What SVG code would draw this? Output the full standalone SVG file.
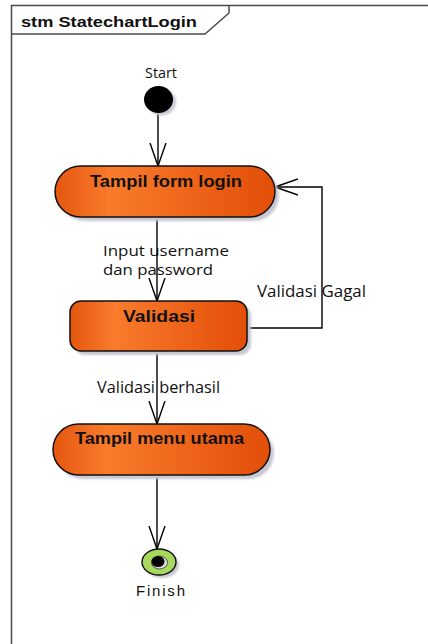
<svg xmlns="http://www.w3.org/2000/svg" width="428" height="644" viewBox="0 0 428 644">
<defs>
<linearGradient id="og" x1="0" y1="0" x2="1" y2="0">
<stop offset="0" stop-color="#E4560F"/>
<stop offset="0.25" stop-color="#F97B2C"/>
<stop offset="1" stop-color="#E24E08"/>
</linearGradient>
<filter id="blur" x="-20%" y="-20%" width="140%" height="140%"><feGaussianBlur stdDeviation="1.2"/></filter>
<marker id="arr" viewBox="0 0 24 18" refX="23" refY="9" markerWidth="24" markerHeight="18" markerUnits="userSpaceOnUse" orient="auto">
<path d="M0,1 L23,9 L0,17" fill="none" stroke="#000" stroke-width="1.4"/>
</marker>
</defs>
<style>
.frame{fill:none;stroke:#4a4a4a;stroke-width:1.5}
.node{fill:url(#og);stroke:#111;stroke-width:1.5}
.shadow{fill:#c6c8d2;filter:url(#blur)}
.ntext{font-family:"Liberation Sans",Arial,sans-serif;font-weight:bold;font-size:16px;fill:#111}
.lbl{font-family:"Open Sans","Noto Sans",sans-serif;font-size:16px;fill:#111}
.lbl2{font-family:"Open Sans","Noto Sans",sans-serif;font-size:15px;fill:#111}
.conn{fill:none;stroke:#000;stroke-width:1.4;marker-end:url(#arr)}
</style>
<rect width="428" height="644" fill="#fff"/>
<g id="frame">
<path class="frame" d="M11.5,644 L11.5,5.5 L428,5.5"/>
<path class="frame" d="M11.5,34 L205,34 L229,13 L229,5.5"/>
<text x="21" y="27" font-family="Liberation Sans,Arial,sans-serif" font-weight="bold" font-size="15" fill="#111" textLength="176" lengthAdjust="spacingAndGlyphs">stm StatechartLogin</text>
</g>
<g id="connectors">
<path class="conn" d="M158,113 L158,166"/>
<path class="conn" d="M157,217 L157,301"/>
<path class="conn" d="M247,328 L322,328 L322,187 L275,187"/>
<path class="conn" d="M157,351 L157,424"/>
<path class="conn" d="M157,475 L157,549"/>
</g>
<g id="labels">
<text class="lbl2" x="103" y="256" textLength="126" lengthAdjust="spacingAndGlyphs">Input username</text>
<text class="lbl2" x="103" y="275" textLength="110" lengthAdjust="spacingAndGlyphs">dan password</text>
<text class="lbl" x="257" y="297" textLength="109" lengthAdjust="spacingAndGlyphs">Validasi Gagal</text>
<text class="lbl" x="97" y="393" textLength="123" lengthAdjust="spacingAndGlyphs">Validasi berhasil</text>
</g>
<g id="start">
<ellipse cx="161.5" cy="102" rx="14.5" ry="13.5" class="shadow"/>
<ellipse cx="158.5" cy="99.5" rx="14.5" ry="13.5" fill="#000"/>
<text x="145" y="78" font-family="Open Sans,Noto Sans,sans-serif" font-size="14" fill="#111" textLength="32" lengthAdjust="spacingAndGlyphs">Start</text>
</g>
<g id="tampil-form-login">
<rect x="59" y="170" width="220" height="51" rx="25.5" class="shadow"/>
<rect x="55" y="166" width="220" height="51" rx="25.5" class="node"/>
<text class="ntext" x="90" y="187" textLength="152" lengthAdjust="spacingAndGlyphs">Tampil form login</text>
</g>
<g id="validasi">
<rect x="74" y="305" width="177" height="50" rx="11" class="shadow"/>
<rect x="70" y="301" width="177" height="50" rx="11" class="node"/>
<text class="ntext" x="123" y="322" textLength="72" lengthAdjust="spacingAndGlyphs">Validasi</text>
</g>
<g id="tampil-menu-utama">
<rect x="57" y="428" width="217" height="51" rx="25.5" class="shadow"/>
<rect x="53" y="424" width="217" height="51" rx="25.5" class="node"/>
<text class="ntext" x="75" y="444" textLength="169" lengthAdjust="spacingAndGlyphs">Tampil menu utama</text>
</g>
<g id="finish">
<ellipse cx="162" cy="565" rx="17" ry="13" class="shadow"/>
<ellipse cx="159" cy="562" rx="17" ry="13" fill="#A9D85E" stroke="#111" stroke-width="1.4"/>
<ellipse cx="159.5" cy="562.5" rx="8" ry="6.5" fill="#e0e0e0" stroke="#333" stroke-width="0.8"/>
<ellipse cx="158" cy="561.5" rx="6.5" ry="5.5" fill="#000"/>
<text x="136" y="596" font-family="Liberation Sans,Arial,sans-serif" font-size="15" fill="#111" textLength="49" lengthAdjust="spacing">Finish</text>
</g>
</svg>
